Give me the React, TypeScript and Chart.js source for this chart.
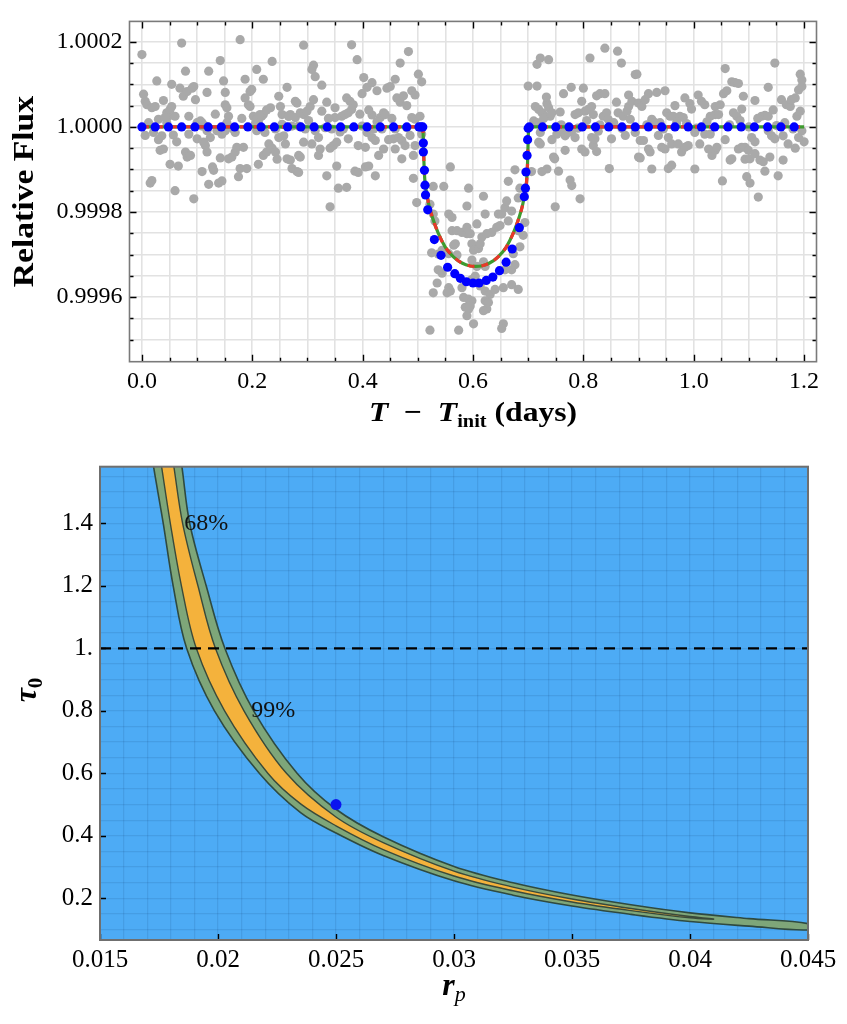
import React, { useEffect, useRef } from 'react';
import { Chart, registerables } from 'chart.js';

Chart.register(...registerables);

// ================= Top panel : light curve =================
const lcXRange = [-0.0225, 1.2225];
const lcYRange = [0.999448, 1.000248];
const lcXMajorTicks = [0.0, 0.2, 0.4, 0.6, 0.8, 1.0, 1.2];
const lcYMajorTicks = [0.9996, 0.9998, 1.0, 1.0002];
const lcXMinorStep = 0.05;
const lcYMinorStep = 0.00005;

// observed points: [time (days), (relative flux - 1) in ppm]
const obsPre: [number, number][] = [
  [0.000, 170], [0.003, 77], [0.006, 60], [0.009, 52], [0.018, 45], [0.024, 48], [0.027, 108], [0.015, -132],
  [0.018, -126], [0.033, -55], [0.039, -52], [0.036, -21], [0.021, -13], [0.039, 62], [0.048, 25], [0.051, -88],
  [0.054, 100], [0.057, -19], [0.060, -150], [0.066, -92], [0.072, 197], [0.069, 91], [0.075, 72], [0.079, 131],
  [0.082, 83], [0.091, 91], [0.094, 95], [0.085, -17], [0.079, -59], [0.082, -71], [0.088, -67], [0.094, -169],
  [0.097, 64], [0.103, 10], [0.109, -105], [0.112, -36], [0.115, -44], [0.118, -59], [0.118, 81], [0.121, 131],
  [0.124, -25], [0.128, -94], [0.130, -102], [0.121, -135], [0.139, -132], [0.145, -127], [0.142, 156], [0.148, 108],
  [0.151, 81], [0.151, 52], [0.154, 45], [0.157, 25], [0.154, 10], [0.142, -73], [0.157, -75], [0.163, -71],
  [0.169, -59], [0.172, -48], [0.178, 205], [0.175, -117], [0.178, -98], [0.190, -98], [0.184, -48], [0.187, 112],
  [0.187, 68], [0.193, 52], [0.196, 48], [0.196, 83], [0.199, 88], [0.208, 135], [0.211, 14], [0.217, 25],
  [0.220, 29], [0.211, -88], [0.220, 112], [0.220, -67], [0.226, -59], [0.230, -40], [0.236, -50], [0.242, -59],
  [0.245, -76], [0.236, 154], [0.233, 45], [0.242, -5], [0.248, -25], [0.248, 72], [0.251, 48], [0.257, -21],
  [0.263, 93], [0.266, 25], [0.269, 29], [0.263, -75], [0.269, -78], [0.272, -98], [0.281, -105], [0.278, 60],
  [0.284, -67], [0.012, 10], [0.030, 18], [0.045, 10], [0.060, 25], [0.085, 25], [0.109, 10], [0.115, 2],
  [0.136, -9], [0.166, -5], [0.205, 6], [0.254, 6], [0.212, 25],
  [0.042, 22], [0.045, 33], [0.051, 41], [0.054, 48], [0.100, 10], [0.106, 14], [0.109, 2], [0.118, -9],
  [0.139, -9], [0.145, -17], [0.151, -9], [0.163, -2], [0.169, -13], [0.202, 25], [0.208, 18], [0.214, 29],
  [0.208, -9], [0.223, -13], [0.254, 29], [0.266, 25], [0.272, 2], [0.278, 22], [0.006, -20], [0.030, -30],
  [0.063, -35], [0.100, -28], [0.133, 30], [0.181, 20], [0.226, 40], [0.260, -40],
  [0.293, 192], [0.281, 56], [0.287, 33], [0.293, 29], [0.299, 37], [0.305, 48], [0.311, 64], [0.287, -71],
  [0.284, -107], [0.293, -36], [0.308, -40], [0.311, 145], [0.314, 118], [0.308, 135], [0.326, 98], [0.320, -67],
  [0.323, -52], [0.326, 37], [0.335, 58], [0.335, -115], [0.341, -188], [0.341, -50], [0.347, -44], [0.353, -36],
  [0.344, -5], [0.350, 22], [0.356, -144], [0.371, -142], [0.353, -92], [0.350, 45], [0.362, 25], [0.368, 29],
  [0.374, 33], [0.371, 68], [0.377, 60], [0.383, 52], [0.380, 41], [0.374, -28], [0.380, 193], [0.390, 158],
  [0.386, -104], [0.392, -107], [0.392, -44], [0.405, -48], [0.399, 78], [0.402, 116], [0.408, 93], [0.417, 104],
  [0.405, -94], [0.411, -92], [0.408, -13], [0.417, -25], [0.423, -32], [0.420, -5], [0.417, 28], [0.423, -115],
  [0.426, 85], [0.429, -67], [0.438, -52], [0.432, 22], [0.438, 33], [0.441, 29], [0.444, 91], [0.450, 95],
  [0.459, 112], [0.447, -30], [0.456, -28], [0.465, -25], [0.471, -32], [0.459, -52], [0.462, 68], [0.468, 58],
  [0.474, 73], [0.480, 50], [0.468, 150], [0.471, -75], [0.477, -44], [0.483, 177], [0.489, 22], [0.495, 18],
  [0.489, 85], [0.495, 75], [0.492, -67], [0.492, -121], [0.501, 124], [0.504, 25], [0.507, 106], [0.507, -17],
  [0.498, -178], [0.495, -44], [0.284, 2], [0.296, -5], [0.314, -9], [0.332, -2], [0.365, -5], [0.399, 2],
  [0.435, -5], [0.459, -5], [0.480, -2], [0.302, 15], [0.338, 20], [0.359, -12], [0.395, 30], [0.426, 12],
  [0.453, 20], [0.486, -20], [0.320, -25], [0.411, 40],
];

const obsTransit: [number, number][] = [
  [0.528, -140], [0.522, -182], [0.528, -205], [0.531, -221], [0.547, -140], [0.559, -94], [0.556, -205],
  [0.562, -213], [0.562, -244], [0.571, -244], [0.580, -248], [0.589, -251], [0.565, -278], [0.568, -275],
  [0.525, -296], [0.537, -299], [0.544, -290], [0.556, -298], [0.571, -301], [0.537, -336], [0.544, -344],
  [0.535, -367], [0.556, -378], [0.559, -386], [0.553, -390], [0.528, -390], [0.580, -378], [0.583, -401],
  [0.586, -424], [0.592, -428], [0.574, -478], [0.589, -186], [0.522, -478],
  [0.592, -144], [0.595, -251], [0.598, -275], [0.589, -236], [0.601, -290], [0.610, -286], [0.607, -228],
  [0.619, -163], [0.622, -205], [0.613, -275], [0.616, -259], [0.625, -251], [0.634, -248], [0.643, -236],
  [0.649, -232], [0.646, -205], [0.652, -205], [0.658, -190], [0.661, -174], [0.676, -101], [0.664, -128],
  [0.685, -144], [0.682, -167], [0.670, -198], [0.664, -221], [0.598, -313], [0.607, -328], [0.619, -317],
  [0.622, -328], [0.598, -359], [0.604, -351], [0.613, -374], [0.622, -386], [0.631, -394], [0.592, -405],
  [0.598, -409], [0.622, -409], [0.628, -413], [0.625, -428], [0.619, -432], [0.589, -424], [0.595, -421],
  [0.589, -444], [0.601, -463], [0.655, -463], [0.652, -474], [0.640, -382], [0.655, -378], [0.670, -371],
  [0.682, -382], [0.658, -336], [0.670, -336], [0.676, -324], [0.673, -298], [0.685, -282], [0.682, -244],
  [0.691, -255], [0.694, -225],
];

const obsPost: [number, number][] = [
  [0.700, 96], [0.716, 96], [0.716, 147], [0.722, 162], [0.737, 158], [0.713, 48], [0.719, 41], [0.725, 33],
  [0.731, 25], [0.734, 55], [0.737, 45], [0.743, 33], [0.740, 25], [0.710, 14], [0.716, 10], [0.722, -13],
  [0.719, -36], [0.722, -40], [0.706, -105], [0.725, -105], [0.734, -99], [0.746, -71], [0.748, -75],
  [0.755, -104], [0.749, -188], [0.758, 35], [0.764, 78], [0.752, -17], [0.761, -9], [0.767, -21], [0.773, -13],
  [0.779, -9], [0.767, -55], [0.776, -125], [0.779, -138], [0.778, 93], [0.785, 29], [0.791, 33], [0.794, -169],
  [0.800, 91], [0.797, -52], [0.803, -59], [0.818, -44], [0.824, -58], [0.803, 37], [0.809, 41], [0.815, 48],
  [0.818, 29], [0.812, 162], [0.824, 73], [0.830, 78], [0.839, 78], [0.815, -25], [0.821, -28], [0.839, 185],
  [0.836, 25], [0.842, 33], [0.845, 18], [0.847, -98], [0.851, -28], [0.860, 58], [0.862, 178], [0.869, 150],
  [0.863, 33], [0.872, 25], [0.879, 37], [0.882, 48], [0.882, 75], [0.888, 60], [0.885, 18], [0.894, 123],
  [0.900, -71], [0.894, -13], [0.760, 5], [0.790, -3], [0.830, 5], [0.870, -4], [0.728, 20], [0.743, -30],
  [0.785, -25], [0.806, 15], [0.827, -10], [0.855, 10], [0.876, -20], [0.733, 70], [0.797, 60],
  [0.897, 124], [0.900, 56], [0.906, 48], [0.912, 64], [0.918, 78], [0.903, -32], [0.909, -32], [0.903, -73],
  [0.918, -52], [0.921, -59], [0.924, 18], [0.930, 10], [0.939, 10], [0.924, -99], [0.933, 81], [0.948, 85],
  [0.942, -48], [0.948, -52], [0.951, 33], [0.957, 25], [0.963, 25], [0.954, -98], [0.960, -90], [0.954, -25],
  [0.960, -40], [0.966, 50], [0.972, -40], [0.975, 25], [0.981, 22], [0.978, -59], [0.984, -48], [0.990, -44],
  [0.984, 68], [0.993, 55], [0.996, 42], [1.002, -99], [1.002, -13], [1.008, 75], [1.014, 60], [1.020, 52],
  [1.011, -40], [1.020, -17], [1.030, -17], [1.030, 25], [1.039, 29], [1.045, 29], [1.027, -52], [1.033, -67],
  [1.039, -55], [1.042, -48], [1.039, 48], [1.048, 52], [1.052, -127], [1.054, 78], [1.060, 85], [1.057, 137],
  [1.066, -78], [1.069, -75], [1.069, 106], [1.075, 104], [1.081, 102], [1.072, 33], [1.078, 25], [1.081, -52],
  [1.087, -48], [1.093, -48], [1.099, -55], [1.087, 42], [1.090, 72], [1.096, -117], [1.102, -132], [1.093, -76],
  [1.102, -75], [1.111, -63], [1.105, -25], [1.111, -35], [1.111, 62], [1.117, -165], [1.120, -78], [1.126, -82],
  [1.123, 25], [1.129, 27], [1.135, 25], [1.129, -104], [1.135, 93], [1.138, -71], [1.135, -9], [1.141, -21],
  [1.147, -28], [1.147, 150], [1.153, -115], [1.159, 64], [1.168, 52], [1.175, 48], [1.162, -78], [1.162, -21],
  [1.171, -40], [1.177, 64], [1.184, 68], [1.184, -50], [1.187, 25], [1.193, 37], [1.190, 87], [1.196, 95],
  [1.193, 124], [1.196, 110], [1.196, -9], [1.200, -35], [0.915, 5], [0.945, -5], [0.987, 8], [1.005, -3],
  [1.065, 5], [1.100, 0], [1.150, 3], [1.180, -5], [0.936, -20], [0.969, 10], [1.024, 12], [1.057, -30],
  [1.084, 15], [1.116, 20], [1.144, 40], [1.165, 10], [1.190, -25],
];

// fitted transit model (solid/dashed curve): [time, ppm]
const modelCurve: [number, number][] = [
  [0.000, 0], [0.509, 0], [0.510, -30], [0.511, -80], [0.513, -130], [0.516, -155], [0.520, -183],
  [0.527, -215], [0.537, -250], [0.550, -283], [0.565, -306], [0.580, -320], [0.595, -327], [0.605, -328],
  [0.615, -327], [0.630, -320], [0.645, -306], [0.660, -283], [0.673, -250], [0.683, -215], [0.690, -183],
  [0.694, -155], [0.697, -130], [0.699, -80], [0.700, -30], [0.701, 0], [1.200, 0],
];

// second model, shown as sampled blue points: [time, ppm]
const bluePoints: [number, number][] = [
  [0.000, 0], [0.024, 0], [0.048, 0], [0.072, 0], [0.096, 0], [0.120, 0], [0.144, 0], [0.168, 0], [0.192, 0],
  [0.216, 0], [0.240, 0], [0.264, 0], [0.288, 0], [0.312, 0], [0.336, 0], [0.360, 0], [0.384, 0], [0.408, 0],
  [0.432, 0], [0.456, 0], [0.480, 0], [0.502, 0], [0.506, 0], [0.509, 0],
  [0.510, -38], [0.510, -59], [0.512, -102], [0.513, -137], [0.514, -160], [0.518, -195], [0.530, -265],
  [0.542, -302], [0.554, -330], [0.567, -345], [0.577, -356], [0.588, -364], [0.600, -367], [0.611, -367],
  [0.624, -361], [0.636, -353], [0.648, -338], [0.660, -318], [0.671, -287], [0.684, -237], [0.693, -164],
  [0.695, -144], [0.696, -106], [0.698, -67], [0.699, -30], [0.700, -3],
  [0.702, 0], [0.726, 0], [0.750, 0], [0.774, 0], [0.798, 0], [0.822, 0], [0.846, 0], [0.870, 0], [0.894, 0],
  [0.918, 0], [0.942, 0], [0.966, 0], [0.990, 0], [1.014, 0], [1.038, 0], [1.062, 0], [1.086, 0], [1.110, 0],
  [1.134, 0], [1.158, 0], [1.182, 0],
];

// ================= Bottom panel : confidence band =================
const bandXRange = [0.015, 0.045];
const bandYRange = [0.0666, 1.581];
const bandXTicks = [0.015, 0.02, 0.025, 0.03, 0.035, 0.04, 0.045];
const bandYTicks = [0.2, 0.4, 0.6, 0.8, 1.0, 1.2, 1.4];
const bandXGridStep = 0.001;
const bandYGridStep = 0.05;

// 99% region boundaries [r_p, tau_0]
const lower99: [number, number][] = [
  [0.01693, 1.75], [0.01727, 1.581], [0.01768, 1.4], [0.01810, 1.2], [0.01867, 1.0], [0.01985, 0.8],
  [0.02175, 0.6], [0.0235, 0.474], [0.0250, 0.409], [0.0270, 0.337], [0.0300, 0.256], [0.0325, 0.210],
  [0.0350, 0.1754], [0.0375, 0.1486], [0.0400, 0.1257], [0.0425, 0.111], [0.0450, 0.099],
];
const upper99: [number, number][] = [
  [0.01813, 1.75], [0.01847, 1.581], [0.01880, 1.4], [0.01950, 1.2], [0.02029, 1.0], [0.02151, 0.8],
  [0.02335, 0.6], [0.0250, 0.485], [0.0270, 0.397], [0.0300, 0.302], [0.0325, 0.250], [0.0350, 0.2106],
  [0.0375, 0.1794], [0.0400, 0.1533], [0.0425, 0.135], [0.0450, 0.119],
];
// 68% region boundaries [r_p, tau_0]
const lower68: [number, number][] = [
  [0.01727, 1.75], [0.01761, 1.581], [0.01798, 1.4], [0.01845, 1.2], [0.01908, 1.0], [0.02028, 0.8],
  [0.02211, 0.6], [0.0235, 0.502], [0.0250, 0.432], [0.0270, 0.356], [0.0300, 0.2713], [0.0325, 0.224],
  [0.0350, 0.1882], [0.0375, 0.1606], [0.0400, 0.1374], [0.0410, 0.133],
];
const upper68: [number, number][] = [
  [0.01779, 1.75], [0.01813, 1.581], [0.01850, 1.4], [0.01915, 1.2], [0.01989, 1.0], [0.02110, 0.8],
  [0.0229, 0.6], [0.0250, 0.460], [0.0270, 0.378], [0.0300, 0.2867], [0.0325, 0.236],
  [0.0350, 0.1978], [0.0375, 0.1674], [0.0400, 0.1416], [0.0410, 0.134],
];
const opticalDepthLine = 1.0;
const bestPoint: [number, number] = [0.025, 0.5];
const bandLabels: { text: string; rp: number; tau: number }[] = [
  { text: '68%', rp: 0.01857, tau: 1.4 },
  { text: '99%', rp: 0.02141, tau: 0.8 },
];

// ---------- helpers ----------
const SERIF = '"Liberation Serif", "Times New Roman", serif';
const steps = (from: number, to: number, step: number) => {
  const out: number[] = [];
  const n = Math.round((to - from) / step);
  for (let i = 0; i <= n; i++) out.push(+(from + i * step).toFixed(8));
  return out;
};
const isMajor = (v: number, majors: number[]) => majors.some((m) => Math.abs(m - v) < 1e-9);
const toXY = (arr: [number, number][]) => arr.map(([t, p]) => ({ x: t, y: 1 + p * 1e-6 }));
const toPts = (arr: [number, number][]) => arr.map(([x, y]) => ({ x, y }));

type Part = { t: string; font: string; dy?: number };
function drawRich(ctx: CanvasRenderingContext2D, parts: Part[], cx: number, cy: number, rotate = false, sx = 1) {
  ctx.save();
  ctx.translate(cx, cy);
  if (rotate) ctx.rotate(-Math.PI / 2);
  ctx.scale(sx, 1);
  let total = 0;
  const widths = parts.map((p) => {
    ctx.font = p.font;
    const w = ctx.measureText(p.t).width;
    total += w;
    return w;
  });
  let x = -total / 2;
  ctx.fillStyle = '#000';
  ctx.textBaseline = 'alphabetic';
  ctx.textAlign = 'left';
  parts.forEach((p, i) => {
    ctx.font = p.font;
    ctx.fillText(p.t, x, p.dy || 0);
    x += widths[i];
  });
  ctx.restore();
}

function framePlugin(o: {
  xMajor: number[]; yMajor: number[]; minor: boolean; mirror: boolean; majorLen: number; minorLen: number;
  frameColor: string; frameWidth: number; bg?: string; extra?: (chart: any) => void;
}) {
  return {
    id: 'frameTicks' + Math.random().toString(36).slice(2),
    beforeDraw(chart: any) {
      if (!o.bg) return;
      const { ctx, chartArea: a } = chart;
      ctx.save();
      ctx.fillStyle = o.bg;
      ctx.fillRect(a.left, a.top, a.right - a.left, a.bottom - a.top);
      ctx.restore();
    },
    afterDraw(chart: any) {
      const { ctx, chartArea: a, scales } = chart;
      ctx.save();
      ctx.strokeStyle = '#000';
      ctx.lineWidth = 1.4;
      ctx.beginPath();
      for (const t of scales.x.ticks) {
        const major = isMajor(t.value, o.xMajor);
        if (!major && !o.minor) continue;
        const len = major ? o.majorLen : o.minorLen;
        const px = Math.round(scales.x.getPixelForValue(t.value)) + 0.5;
        ctx.moveTo(px, a.bottom);
        ctx.lineTo(px, a.bottom - len);
        if (o.mirror) {
          ctx.moveTo(px, a.top);
          ctx.lineTo(px, a.top + len);
        }
      }
      for (const t of scales.y.ticks) {
        const major = isMajor(t.value, o.yMajor);
        if (!major && !o.minor) continue;
        const len = major ? o.majorLen : o.minorLen;
        const py = Math.round(scales.y.getPixelForValue(t.value)) + 0.5;
        ctx.moveTo(a.left, py);
        ctx.lineTo(a.left + len, py);
        if (o.mirror) {
          ctx.moveTo(a.right, py);
          ctx.lineTo(a.right - len, py);
        }
      }
      ctx.stroke();
      ctx.strokeStyle = o.frameColor;
      ctx.lineWidth = o.frameWidth;
      ctx.strokeRect(a.left, a.top, a.right - a.left, a.bottom - a.top);
      ctx.restore();
      if (o.extra) o.extra(chart);
    },
  };
}

// ---------- component ----------
export default function App() {
  const topRef = useRef<HTMLCanvasElement>(null);
  const botRef = useRef<HTMLCanvasElement>(null);

  useEffect(() => {
    const tickFontTop = { family: SERIF, size: 24 };
    const top = new Chart(topRef.current!, {
      type: 'scatter',
      data: {
        datasets: [
          {
            label: 'data',
            data: toXY([...obsPre, ...obsTransit, ...obsPost]),
            pointRadius: 4.6,
            pointBackgroundColor: '#a9a9a9',
            pointBorderWidth: 0,
            order: 4,
          },
          {
            label: 'model',
            data: toXY(modelCurve),
            showLine: true,
            borderColor: '#3e9b2f',
            borderWidth: 3.2,
            pointRadius: 0,
            cubicInterpolationMode: 'monotone',
            order: 3,
          },
          {
            label: 'model dashed',
            data: toXY(modelCurve),
            showLine: true,
            borderColor: '#e8382a',
            borderWidth: 3.2,
            borderDash: [7, 7],
            pointRadius: 0,
            cubicInterpolationMode: 'monotone',
            order: 2,
          },
          {
            label: 'model 2',
            data: toXY(bluePoints),
            pointRadius: 4.6,
            pointBackgroundColor: '#0000ff',
            pointBorderWidth: 0,
            order: 1,
          },
        ],
      },
      options: {
        animation: false,
        responsive: false,
        events: [],
        layout: { padding: { left: 0, right: 30.5, top: 19, bottom: 0 } },
        plugins: { legend: { display: false }, tooltip: { enabled: false } },
        scales: {
          x: {
            type: 'linear',
            min: lcXRange[0],
            max: lcXRange[1],
            afterBuildTicks: (axis: any) => {
              axis.ticks = steps(0, 1.2, lcXMinorStep).map((v) => ({ value: v }));
            },
            afterFit: (s: any) => {
              s.height = 78.3;
            },
            ticks: {
              autoSkip: false,
              maxRotation: 0,
              padding: 6,
              color: '#000',
              font: tickFontTop,
              callback: (v: any) => (isMajor(+v, lcXMajorTicks) ? (+v).toFixed(1) : ''),
            },
            grid: { color: '#e2e2e2', lineWidth: 1.6, drawTicks: false },
            border: { display: false },
          },
          y: {
            type: 'linear',
            min: lcYRange[0],
            max: lcYRange[1],
            afterBuildTicks: (axis: any) => {
              axis.ticks = steps(0.9995, 1.0002, lcYMinorStep).map((v) => ({ value: v }));
            },
            afterFit: (s: any) => {
              s.width = 129.5;
            },
            ticks: {
              autoSkip: false,
              padding: 7,
              color: '#000',
              font: tickFontTop,
              callback: (v: any) => (isMajor(+v, lcYMajorTicks) ? (+v).toFixed(4) : ''),
            },
            grid: { color: '#e2e2e2', lineWidth: 1.6, drawTicks: false },
            border: { display: false },
          },
        },
      },
      plugins: [
        framePlugin({
          xMajor: lcXMajorTicks,
          yMajor: lcYMajorTicks,
          minor: true,
          mirror: true,
          majorLen: 7,
          minorLen: 4,
          frameColor: '#7a7a7a',
          frameWidth: 1.6,
          extra: (chart: any) => {
            const { ctx, chartArea: a } = chart;
            drawRich(ctx, [{ t: 'Relative Flux', font: `bold 30px ${SERIF}` }], 33, (a.top + a.bottom) / 2, true, 1.12);
            drawRich(
              ctx,
              [
                { t: 'T', font: `italic bold 28px ${SERIF}` },
                { t: '\u2002−\u2002', font: `bold 28px ${SERIF}` },
                { t: 'T', font: `italic bold 28px ${SERIF}` },
                { t: 'init', font: `bold 18px ${SERIF}`, dy: 6 },
                { t: ' (days)', font: `bold 28px ${SERIF}` },
              ],
              (a.left + a.right) / 2,
              421,
              false,
              1.13
            );
          },
        }) as any,
      ],
    } as any);

    const tickFontBot = { family: SERIF, size: 25 };
    const bot = new Chart(botRef.current!, {
      type: 'scatter',
      data: {
        datasets: [
          {
            label: 'threshold',
            data: [
              { x: bandXRange[0], y: opticalDepthLine },
              { x: bandXRange[1], y: opticalDepthLine },
            ],
            showLine: true,
            borderColor: '#000',
            borderWidth: 2.2,
            borderDash: [11, 7],
            pointRadius: 0,
            order: 1,
          },
          {
            label: 'best',
            data: [{ x: bestPoint[0], y: bestPoint[1] }],
            pointRadius: 5.5,
            pointBackgroundColor: '#0a14f0',
            pointBorderWidth: 0,
            order: 0,
          },
          {
            label: '68%',
            data: toPts([...lower68, ...upper68.slice().reverse()]),
            showLine: true,
            fill: 'shape',
            tension: 0.35,
            backgroundColor: '#f4b23c',
            borderColor: '#3a4a3a',
            borderWidth: 1.4,
            pointRadius: 0,
            order: 2,
          },
          {
            label: '99%',
            data: toPts([...lower99, ...upper99.slice().reverse()]),
            showLine: true,
            fill: 'shape',
            tension: 0.35,
            backgroundColor: '#7ea679',
            borderColor: '#2f4a40',
            borderWidth: 1.6,
            pointRadius: 0,
            order: 3,
          },
        ],
      },
      options: {
        animation: false,
        responsive: false,
        events: [],
        layout: { padding: { left: 0, right: 39, top: 26.7, bottom: 0 } },
        plugins: { legend: { display: false }, tooltip: { enabled: false } },
        scales: {
          x: {
            type: 'linear',
            min: bandXRange[0],
            max: bandXRange[1],
            afterBuildTicks: (axis: any) => {
              axis.ticks = steps(bandXRange[0], bandXRange[1], bandXGridStep).map((v) => ({ value: v }));
            },
            afterFit: (s: any) => {
              s.height = 84;
            },
            ticks: {
              autoSkip: false,
              maxRotation: 0,
              padding: 5,
              color: '#000',
              font: tickFontBot,
              callback: (v: any) => (isMajor(+v, bandXTicks) ? String(+(+v).toFixed(3)) : ''),
            },
            grid: { color: 'rgba(20,60,110,0.12)', lineWidth: 1.2, drawTicks: false },
            border: { display: false },
          },
          y: {
            type: 'linear',
            min: bandYRange[0],
            max: bandYRange[1],
            afterBuildTicks: (axis: any) => {
              axis.ticks = steps(0.1, 1.55, bandYGridStep).map((v) => ({ value: v }));
            },
            afterFit: (s: any) => {
              s.width = 100;
            },
            ticks: {
              autoSkip: false,
              padding: 7,
              color: '#000',
              font: tickFontBot,
              callback: (v: any) => {
                const n = +v;
                if (!isMajor(n, bandYTicks)) return '';
                return Math.abs(n - 1) < 1e-9 ? '1.' : n.toFixed(1);
              },
            },
            grid: { color: 'rgba(20,60,110,0.12)', lineWidth: 1.2, drawTicks: false },
            border: { display: false },
          },
        },
      },
      plugins: [
        framePlugin({
          xMajor: bandXTicks,
          yMajor: bandYTicks,
          minor: false,
          mirror: false,
          majorLen: 6,
          minorLen: 0,
          frameColor: '#6f6f6f',
          frameWidth: 2,
          bg: '#4dabf5',
          extra: (chart: any) => {
            const { ctx, scales } = chart;
            ctx.save();
            ctx.fillStyle = '#111';
            ctx.font = `24px ${SERIF}`;
            ctx.textBaseline = 'middle';
            ctx.textAlign = 'left';
            for (const l of bandLabels) {
              ctx.fillText(l.text, scales.x.getPixelForValue(l.rp), scales.y.getPixelForValue(l.tau));
            }
            ctx.restore();
            drawRich(
              ctx,
              [
                { t: 'τ', font: `italic bold 32px ${SERIF}` },
                { t: '0', font: `bold 21px ${SERIF}`, dy: 6 },
              ],
              36,
              250,
              true
            );
            drawRich(
              ctx,
              [
                { t: 'r', font: `italic bold 32px ${SERIF}` },
                { t: 'p', font: `italic 22px ${SERIF}`, dy: 6 },
              ],
              454,
              555
            );
          },
        }) as any,
      ],
    } as any);

    return () => {
      top.destroy();
      bot.destroy();
    };
  }, []);

  return (
    <div style={{ position: 'absolute', left: 0, top: 0, width: 847, height: 1024, background: '#fff' }}>
      <canvas ref={topRef} width={847} height={440} style={{ position: 'absolute', left: 0, top: 0 }} />
      <canvas ref={botRef} width={847} height={584} style={{ position: 'absolute', left: 0, top: 440 }} />
    </div>
  );
}
